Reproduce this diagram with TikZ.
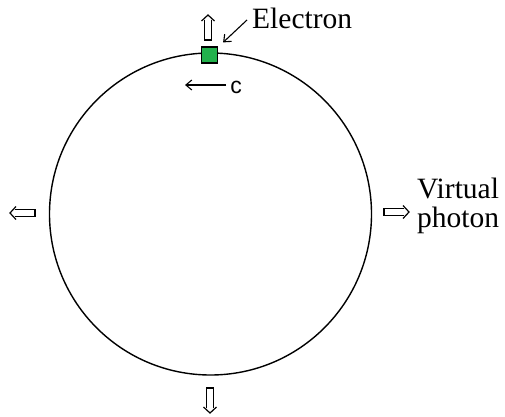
\documentclass[tikz,border=0pt]{standalone}
\usepackage{fontspec}
\setmainfont{Liberation Serif}
\setsansfont{Liberation Sans}
\usetikzlibrary{arrows.meta,positioning}
\definecolor{ElectronGreen}{RGB}{34,177,76}
\tikzset{
  hollowarrow/.pic={
    \draw[line width=1.2pt] (-5,-3.5) -- (-25,-3.5) -- (-25,3.5) -- (-5,3.5);
    \draw[line width=1.2pt] (-6,-6.5) -- (0,0) -- (-6,6.5);
  },
}
\begin{document}
\begin{tikzpicture}[
    x=1pt, y=1pt,
    orbit/.style={
      circle,
      draw=black,
      line width=1.4pt,
      minimum size=322pt,
      inner sep=0pt
    },
    particle/.style={
      rectangle,
      draw=black,
      fill=ElectronGreen,
      line width=1.2pt,
      minimum size=16pt,
      inner sep=0pt
    },
    tag/.style={
      font=\fontsize{29.5}{29}\selectfont,
      align=left,
      inner sep=0pt
    },
    pointer/.style={
      -{Straight Barb[length=6pt, width=10pt]},
      line width=1.1pt
    }
  ]
    \useasboundingbox (0,0) rectangle (505,416);

    \node[orbit] (ring) at (210.5,202) {};
    \node[particle] (electron) at (209.5,361) {};

    \node[tag, anchor=base west] (elabel) at (252,387) {Electron};
    \node[tag, anchor=north west] (vlabel) at (417,238) {Virtual\\photon};
    \node[font=\sffamily\fontsize{23}{23}\selectfont, inner sep=0pt] (speed) at (236,329) {c};

    \coordinate (etail) at (247,396);
    \coordinate (chead) at (185,331);

    \draw[pointer] (etail) -- ([shift={(5,4)}]electron.north east);
    \draw[pointer] ([xshift=-4pt,yshift=2pt]speed.west) -- (chead);

    % emitted photons
    \pic[rotate=90] at (208,401) {hollowarrow};
    \pic[rotate=180] at (10,203) {hollowarrow};
    \pic at (409,204) {hollowarrow};
    \pic[rotate=-90] at (210,3) {hollowarrow};

  \end{tikzpicture}
\end{document}
